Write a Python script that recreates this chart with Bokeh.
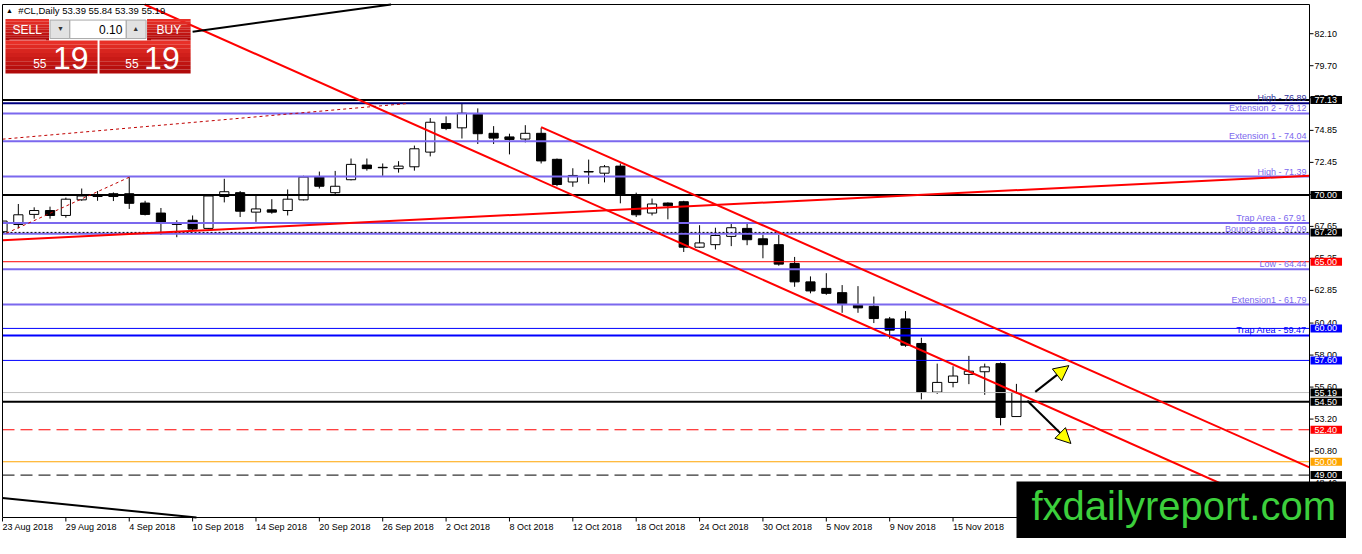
from bokeh.plotting import figure
from bokeh.models import Range1d, Label, Arrow, NormalHead
from bokeh.embed import file_html
from bokeh.resources import INLINE

# ---------------- data ----------------
bar_index = list(range(65))
opens = [67.25, 67.79, 68.55, 68.84, 68.47, 69.64, 69.99, 70.10, 70.10, 69.40,
         68.65, 67.85, 68.11, 67.50, 69.89, 70.18, 68.72, 68.89, 68.84, 69.64,
         71.35, 70.18, 71.15, 72.25, 72.08, 71.98, 72.12, 73.22, 75.36, 75.04,
         76.06, 74.63, 74.36, 74.20, 74.63, 72.68, 70.98, 71.76, 71.64, 72.17,
         69.98, 68.65, 69.40, 69.50, 66.09, 66.28, 66.90, 67.50, 66.72, 66.28,
         64.87, 63.49, 63.00, 62.68, 61.79, 61.66, 60.71, 60.71, 58.87, 55.22,
         55.95, 56.55, 56.75, 57.36, 53.39]
highs = [68.15, 69.33, 69.08, 69.13, 69.81, 70.49, 70.30, 70.20, 71.39, 69.57,
         69.03, 68.11, 68.47, 69.99, 71.22, 70.30, 69.93, 69.69, 70.42, 71.45,
         71.76, 71.81, 72.74, 72.74, 72.37, 72.54, 73.71, 75.77, 75.90, 76.89,
         76.50, 75.17, 74.60, 75.24, 75.04, 72.74, 72.01, 72.66, 72.25, 72.37,
         70.18, 69.74, 69.45, 69.57, 67.74, 67.55, 67.87, 67.87, 67.01, 67.01,
         65.36, 63.90, 64.14, 63.25, 63.17, 62.39, 60.86, 61.30, 59.30, 57.36,
         57.16, 57.94, 57.36, 57.45, 55.84]
lows = [67.15, 67.50, 68.23, 68.23, 68.30, 69.57, 69.57, 69.55, 68.96, 68.47,
        67.01, 66.84, 67.38, 67.45, 69.45, 68.35, 67.99, 68.60, 68.47, 69.60,
        70.49, 70.06, 71.10, 71.83, 71.44, 71.68, 71.83, 72.90, 74.87, 74.24,
        73.83, 73.83, 73.05, 73.95, 72.37, 70.66, 70.62, 70.84, 70.95, 69.38,
        68.35, 68.47, 68.18, 65.73, 66.04, 65.92, 66.17, 66.24, 65.26, 64.70,
        63.12, 62.63, 62.52, 61.17, 61.17, 60.40, 59.23, 58.62, 54.68, 55.09,
        55.58, 55.82, 55.02, 52.73, 53.39]
closes = [68.05, 68.52, 68.84, 68.47, 69.69, 69.93, 69.89, 69.89, 69.38, 68.55,
          67.87, 67.80, 67.45, 69.93, 70.25, 68.79, 68.96, 68.72, 69.69, 71.35,
          70.66, 70.66, 72.30, 71.98, 72.05, 72.17, 73.47, 75.46, 75.00, 76.14,
          74.60, 74.27, 74.17, 74.63, 72.56, 70.79, 71.47, 71.73, 72.12, 69.98,
          68.52, 69.33, 69.20, 66.09, 66.41, 66.97, 67.55, 66.65, 66.28, 64.82,
          63.49, 62.81, 62.63, 61.79, 61.54, 60.74, 59.87, 58.74, 55.22, 55.95,
          56.43, 56.79, 57.11, 53.32, 55.19]

date_ticks = [0, 4, 8, 12, 16, 20, 24, 28, 32, 36, 40, 44, 48, 52, 56, 60]
date_labels = ["23 Aug 2018", "29 Aug 2018", "4 Sep 2018", "10 Sep 2018",
               "14 Sep 2018", "20 Sep 2018", "26 Sep 2018", "2 Oct 2018",
               "8 Oct 2018", "12 Oct 2018", "18 Oct 2018", "24 Oct 2018",
               "30 Oct 2018", "5 Nov 2018", "9 Nov 2018", "15 Nov 2018"]

price_ticks = [82.10, 79.70, 77.30, 74.85, 72.45, 70.05, 67.65, 65.25,
               62.85, 60.40, 58.00, 55.60, 53.20, 50.80, 48.40]

# horizontal levels
level_prices = [77.13, 76.89, 76.12, 74.04, 71.39, 70.00, 67.91, 67.09, 67.20,
                65.00, 64.44, 61.79, 60.00, 59.47, 57.60, 55.19, 54.50, 52.40,
                50.00, 49.00]
level_colors = ["black", "#000080", "#7b68ee", "#7b68ee", "#7b68ee", "black",
                "#7b68ee", "#7b68ee", "black", "red", "#7b68ee", "#7b68ee",
                "#0000ff", "#0000ff", "#0000ff", "#c0c0c0", "black", "red",
                "#ffa500", "black"]
level_widths = [2, 2, 2, 2, 2, 2, 2, 2, 1, 1, 2, 2, 1, 2, 1, 1, 2, 1, 1, 1]
level_dashes = ["solid", "solid", "solid", "solid", "solid", "solid", "solid",
                "solid", "2 2", "solid", "solid", "solid", "solid", "solid",
                "solid", "solid", "solid", "12 6", "solid", "12 6"]

level_names = ["High - 76.89", "Extension 2 - 76.12", "Extension 1 - 74.04",
               "High - 71.39", "Trap Area - 67.91", "Bounce area - 67.09",
               "Low - 64.44", "Extension1 - 61.79", "Trap Area - 59.47"]
level_name_prices = [76.89, 76.12, 74.04, 71.39, 67.91, 67.09, 64.44, 61.79, 59.47]
level_name_colors = ["#30309a", "#7b68ee", "#7b68ee", "#7b68ee", "#7b68ee",
                     "#7b68ee", "#7b68ee", "#7b68ee", "#0000ff"]

tag_prices = [77.13, 70.00, 67.20, 65.00, 60.00, 57.60, 55.19, 54.50, 52.40, 50.00, 49.00]
tag_colors = ["black", "black", "black", "red", "#0000ff", "#0000ff", "black",
              "black", "red", "#ffa500", "black"]

# trend lines (bar index, price)
trend_x0 = [8.56, 34.0, 0.0, 12.0, 0.0, 0.25, 0.0]
trend_y0 = [84.51, 75.09, 66.62, 82.25, 47.28, 67.14, 74.19]
trend_x1 = [82.5, 82.5, 82.5, 26.0, 13.0, 8.06, 25.6]
trend_y1 = [45.40, 49.58, 71.45, 84.53, 45.73, 71.37, 76.87]
trend_colors = ["red", "red", "red", "black", "black", "#c00000", "#c00000"]
trend_widths = [2, 2, 2, 2, 2, 1, 1]
trend_dashes = ["solid", "solid", "solid", "solid", "solid", "3 3", "3 3"]

# arrows (bar index, price)
arrow_x0 = [65.19, 64.69]
arrow_y0 = [55.24, 54.58]
arrow_x1 = [67.31, 67.44]
arrow_y1 = [57.21, 51.37]

# ---------------- geometry ----------------
FONT = "Liberation Sans"
CW, CH = 1346, 538                 # canvas
CL, CR, CT, CB = 2, 1309, 4, 517   # price-chart area inside the canvas
X0, X1 = 0.0, 82.5                 # bars shown
Y0, Y1 = 45.82, 84.29              # prices shown
kx = (X1 - X0) / (CR - CL)
ky = (Y1 - Y0) / (CB - CT)
xs, xe = X0 - CL * kx, X1 + (CW - CR) * kx
ys, ye = Y0 - (CH - CB) * ky, Y1 + CT * ky


def rx(px):          # reference-chart pixel -> bar units (decorations only)
    return (px - 3) / 16.0


def ry(py):          # reference-chart pixel -> price units (decorations only)
    return 82.10 - (py - 35) / 13.7


def clip_seg(x0, y0, x1, y1):
    t0, t1 = 0.0, 1.0
    dx, dy = x1 - x0, y1 - y0
    for pp, q in ((-dx, x0 - X0), (dx, X1 - x0), (-dy, y0 - Y0), (dy, Y1 - y0)):
        if pp == 0:
            if q < 0:
                return None
        else:
            t = q / pp
            if pp < 0:
                t0 = max(t0, t)
            else:
                t1 = min(t1, t)
    if t0 > t1:
        return None
    return x0 + t0 * dx, y0 + t0 * dy, x0 + t1 * dx, y0 + t1 * dy


p = figure(width=CW, height=CH, x_range=Range1d(xs, xe), y_range=Range1d(ys, ye),
           x_axis_location=None, y_axis_location=None, output_backend="svg",
           toolbar_location=None, min_border=0)
p.xgrid.visible = False
p.ygrid.visible = False
p.outline_line_color = None
p.background_fill_color = "white"
p.border_fill_color = "white"

# ---- candles ----
half = 0.29
body_left = [max(i - half, X0) for i in bar_index]
body_right = [i + half for i in bar_index]
body_top = [max(o, c) for o, c in zip(opens, closes)]
body_bot = [min(o, c) for o, c in zip(opens, closes)]
body_fill = ["white" if c >= o else "black" for o, c in zip(opens, closes)]
p.segment(x0=bar_index, y0=lows, x1=bar_index, y1=highs, line_color="black", line_width=1)
p.quad(left=body_left, right=body_right, top=body_top, bottom=body_bot,
       fill_color=body_fill, line_color="black", line_width=1)

# ---- horizontal levels ----
for lv, c, w, d in zip(level_prices, level_colors, level_widths, level_dashes):
    p.line([X0, X1], [lv, lv], line_color=c, line_width=w, line_dash=d)

# ---- trend lines ----
for x0, y0, x1, y1, c, w, d in zip(trend_x0, trend_y0, trend_x1, trend_y1,
                                   trend_colors, trend_widths, trend_dashes):
    s = clip_seg(x0, y0, x1, y1)
    if s is not None:
        p.line([s[0], s[2]], [s[1], s[3]], line_color=c, line_width=w, line_dash=d)

# ---- price axis (right) and time axis (bottom) ----
p.quad(left=[X0], right=[X1], bottom=[Y0], top=[Y1], fill_color=None,
       line_color="black", line_width=1)
p.segment(x0=[X1] * len(price_ticks), x1=[X1 + 4 * kx] * len(price_ticks),
          y0=price_ticks, y1=price_ticks, line_color="black", line_width=1)
p.segment(x0=date_ticks, x1=date_ticks, y0=[Y0] * len(date_ticks),
          y1=[Y0 - 4 * ky] * len(date_ticks), line_color="black", line_width=1)

for t in price_ticks:
    p.add_layout(Label(x=X1, y=t, x_offset=5, text=f"{t:.2f}", text_align="left",
                       text_baseline="middle", text_font=FONT, text_font_size="9px",
                       text_color="black"))

for t, s in zip(date_ticks, date_labels):
    p.add_layout(Label(x=t, y=Y0, x_offset=0, y_offset=-4, text=s,
                       text_align="left", text_baseline="top",
                       text_font=FONT, text_font_size="9px", text_color="black"))

# ---- level names ----
for name, lv, c in zip(level_names, level_name_prices, level_name_colors):
    p.add_layout(Label(x=X1, y=lv, x_offset=-3, y_offset=0, text=name,
                       text_align="right", text_baseline="bottom",
                       text_font=FONT, text_font_size="9px", text_color=c))

# ---- price tags ----
for lv, bg in zip(tag_prices, tag_colors):
    p.add_layout(Label(x=X1, y=lv, x_offset=1, text=f"{lv:.2f}",
                       text_align="left", text_baseline="middle",
                       text_font=FONT, text_font_size="9px", text_color="white",
                       background_fill_color=bg,
                       padding=dict(left=4, right=5, top=1, bottom=1)))

# ---- arrows ----
for x0, y0, x1, y1 in zip(arrow_x0, arrow_y0, arrow_x1, arrow_y1):
    p.add_layout(Arrow(x_start=x0, y_start=y0, x_end=x1, y_end=y1,
                       line_color="black", line_width=2,
                       end=NormalHead(size=15, fill_color="yellow",
                                      line_color="black", line_width=1)))

# ---------------- one-click trading panel ----------------
ql, qr, qt, qb, qc = [], [], [], [], []


def red_box(l, r, t, b, n=8):
    c0 = (232, 48, 40)
    c1 = (176, 10, 10)
    for k in range(n):
        f = k / (n - 1)
        col = "#%02x%02x%02x" % tuple(int(a + (bb - a) * f) for a, bb in zip(c0, c1))
        ql.append(rx(l)); qr.append(rx(r))
        qt.append(ry(t + (b - t) * k / n)); qb.append(ry(t + (b - t) * (k + 1) / n))
        qc.append(col)


red_box(6, 50, 20, 42)
red_box(149, 193, 20, 42)
red_box(6, 99, 42, 76)
red_box(101, 193, 42, 76)
p.quad(left=ql, right=qr, top=qt, bottom=qb, fill_color=qc, line_color=None)
p.quad(left=[rx(51), rx(71), rx(128)], right=[rx(71), rx(128), rx(148)],
       top=[ry(21)] * 3, bottom=[ry(40)] * 3,
       fill_color=["#e2e2e2", "white", "#e2e2e2"], line_color="#a8a8a8")
p.segment(x0=[rx(10), rx(153)], x1=[rx(47), rx(190)], y0=[ry(41.5)] * 2,
          y1=[ry(41.5)] * 2, line_color="#f08080", line_width=1)


def lab(text, px, py, size, color="white", align="center", baseline="middle"):
    p.add_layout(Label(x=rx(px), y=ry(py), text=text, text_align=align,
                       text_baseline=baseline, text_font=FONT,
                       text_font_size=size, text_color=color))


lab("SELL", 28, 31, "12px")
lab("BUY", 171, 31, "12px")
lab("\u25BC", 61.5, 30, "7px", color="#333333")
lab("\u25B2", 137.5, 30, "7px", color="#333333")
lab("0.10", 124, 30.5, "12px", color="black", align="right")
lab("55", 34, 66, "12px", align="left")
lab("19", 54, 59.5, "32px", align="left")
lab("55", 127, 66, "12px", align="left")
lab("19", 146, 59.5, "32px", align="left")

# title
lab("\u25B2", 10, 11, "7px", color="black")
lab("#CL,Daily  53.39 55.84 53.39 55.19", 19, 11, "9.5px", color="black", align="left")

# ---- watermark (anchor = lower-left corner of its black box) ----
p.add_layout(Label(x=xs + 1016 * kx, y=ye - 540 * ky,
                   text="fxdailyreport.com", text_align="left", text_baseline="bottom",
                   text_font=FONT, text_font_size="40px", text_color="#3ccf3c",
                   background_fill_color="black",
                   padding=dict(left=15, right=20, top=2, bottom=13)))

open("out.html", "w").write(file_html(p, INLINE))
